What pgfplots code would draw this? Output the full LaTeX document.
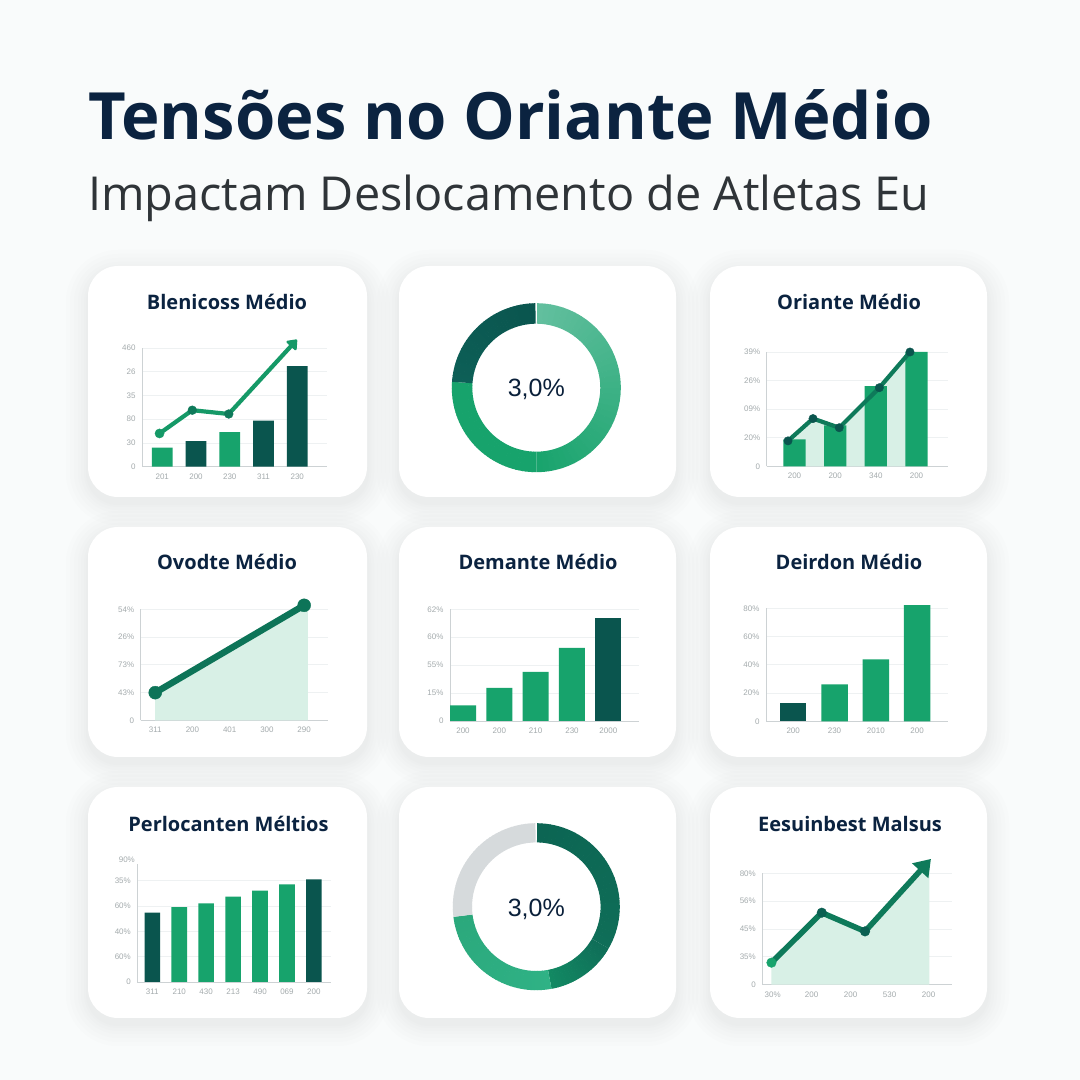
\documentclass[border=0pt]{standalone}
\usepackage{fontspec}
\setmainfont{Open Sans}
\newfontfamily\tickfont{Liberation Sans}
\usepackage{pgfplots}
\pgfplotsset{compat=1.18}
\usetikzlibrary{arrows.meta}
\definecolor{bgc}{HTML}{F9FBFB}
\definecolor{navy}{HTML}{0B2340}
\definecolor{subc}{HTML}{2F3438}
\definecolor{dk}{HTML}{0A554E}
\definecolor{gr}{HTML}{17A36C}
\definecolor{ln}{HTML}{0E7A5A}
\definecolor{lt}{HTML}{D8F0E6}
\definecolor{tickc}{HTML}{A4ABAD}
\definecolor{axc}{HTML}{CDD2D4}
\definecolor{gridc}{HTML}{EEF1F2}
\definecolor{shc}{HTML}{7C8FA0}
\definecolor{ringA}{HTML}{62BF9E}
\definecolor{ringB}{HTML}{2FB285}
\definecolor{ringC}{HTML}{2BA87C}
\definecolor{ringD}{HTML}{D6DADC}
\definecolor{ringE}{HTML}{0C6553}
\definecolor{ringF}{HTML}{0F6E58}
\definecolor{ringG}{HTML}{128A63}
\definecolor{ringH}{HTML}{0D5F57}
\newcommand{\card}[4]{%
  \foreach \s in {22,18,14,10,7,4,2}{
    \fill[shc,opacity=0.016,rounded corners={30pt+\s pt}] (#1pt-\s pt,#2pt-\s pt-6pt) rectangle (#3pt+\s pt,#4pt+\s pt-6pt);
  }
  \fill[white,rounded corners=30pt] (#1pt,#2pt) rectangle (#3pt,#4pt);
}
\newcommand{\cardtitle}[3]{\node[anchor=base,inner sep=0pt,text=navy,font=\fontsize{20}{22}\selectfont\bfseries] at (#1pt,#2pt) {#3};}
% ring segment: cx cy R r start end colourA colourB
\newcommand{\ring}[8]{%
  \pgfmathsetmacro{\da}{(#6-#5)/40}
  \foreach \i in {0,...,39}{
    \pgfmathsetmacro{\aa}{#5+\i*\da}
    \pgfmathsetmacro{\ab}{#5+(\i+1)*\da+(\i<39?(\da>0?0.4:-0.4):0)}
    \pgfmathsetmacro{\pc}{100-\i*2.5}
    \fill[#7!\pc!#8] ({#1pt+#3pt*cos(\aa)},{#2pt+#3pt*sin(\aa)}) arc[start angle=\aa,end angle=\ab,radius=#3pt]
      -- ({#1pt+#4pt*cos(\ab)},{#2pt+#4pt*sin(\ab)}) arc[start angle=\ab,end angle=\aa,radius=#4pt] -- cycle;
  }
}
\pgfplotsset{
  panel/.style={
    scale only axis, clip=false, ymin=0,
    axis x line*=bottom, axis y line*=left,
    axis line style={axc,line width=0.8pt,-},
    major tick length=0pt,
    ymajorgrids, major grid style={gridc,line width=0.8pt},
    tick label style={font=\tickfont\fontsize{8}{9}\selectfont,text=tickc},
    xticklabel style={yshift=-3.5pt}, yticklabel style={xshift=-3pt},
    scaled ticks=false,
  },
  gbar/.style={ybar,bar shift=0pt,bar width=#1,draw=none,fill=gr},
  dbar/.style={ybar,bar shift=0pt,bar width=#1,draw=none,fill=dk},
}
\begin{document}
\begin{tikzpicture}[x=1pt,y=1pt]
\fill[bgc] (0,0) rectangle (1080,1080);
\path[use as bounding box] (0,0) rectangle (1080,1080);
\node[anchor=base west,inner sep=0pt,text=navy,font=\fontsize{65.2}{70}\selectfont\bfseries] at (88pt,940pt) {Tensões no Oriante Médio};
\node[anchor=base west,inner sep=0pt,text=subc,font=\fontsize{46.8}{50}\selectfont] at (88pt,869pt) {Impactam Deslocamento de Atletas Eu};
% cards
\card{88}{583}{367}{814}\card{399}{583}{676}{814}\card{710}{583}{987}{814}
\card{88}{323}{367}{553}\card{399}{323}{676}{553}\card{710}{323}{987}{553}
\card{88}{62}{367}{293}\card{399}{62}{676}{293}\card{710}{62}{987}{293}
\cardtitle{227}{770}{Blenicoss Médio}
\cardtitle{849}{770}{Oriante Médio}
\cardtitle{227}{510}{Ovodte Médio}
\cardtitle{538}{510}{Demante Médio}
\cardtitle{849}{510}{Deirdon Médio}
\cardtitle{228.5}{248}{Perlocanten Méltios}
\cardtitle{850}{248}{Eesuinbest Malsus}
% donut 1
\ring{536.3}{692.3}{84.5}{64}{89.4}{-90}{ringA}{gr}
\ring{536.3}{692.3}{84.5}{64}{-90}{-184}{gr}{gr}
\ring{536.3}{692.3}{84.5}{64}{176}{90.6}{ringH}{dk}
\node[text=navy!90!black,font=\tickfont\fontsize{25}{27}\selectfont] at (536.3pt,690.5pt) {3,0\%};
% donut 2
\ring{536.3}{173.3}{83.5}{64.3}{89.4}{-30}{ringE}{ringF}
\ring{536.3}{173.3}{83.5}{64.3}{-30}{-79.5}{ringF}{ringG}
\ring{536.3}{173.3}{83.5}{64.3}{-79.5}{-173}{ringB}{ringC}
\ring{536.3}{173.3}{83.5}{64.3}{187}{90.6}{ringD}{ringD}
\node[text=navy!90!black,font=\tickfont\fontsize{25}{27}\selectfont] at (536.3pt,171pt) {3,0\%};
% chart 1
\begin{axis}[panel,at={(142pt,613.3pt)},anchor=south west,width=185.3pt,height=118.7pt,
  xmin=-0.6,xmax=4.89,ymax=50,
  ytick={0,10,20,30,40,50},yticklabels={0,30,80,35,26,460},
  xtick={0,1,2,3,4},xticklabels={201,200,230,311,230}]
\addplot[gbar=20.7pt] coordinates {(0,8)(2,14.6)};
\addplot[dbar=20.7pt] coordinates {(1,10.8)(3,19.4)(4,42.4)};
\addplot[color=gr!75!ln,line width=4.2pt,-{Triangle[length=10pt,width=15pt,round]}] coordinates {(-0.08,14)(0.89,23.8)(1.97,22.2)(3.99,53.5)};
\addplot[only marks,mark=*,mark size=4.6pt,color=gr!75!ln] coordinates {(-0.08,14)};
\addplot[only marks,mark=*,mark size=4.4pt,color=ln] coordinates {(0.89,23.8)(1.97,22.2)};
\end{axis}
% chart 2
\begin{axis}[panel,at={(766.7pt,613.7pt)},anchor=south west,width=181.3pt,height=114.3pt,
  xmin=-0.684,xmax=3.775,ymax=40,
  ytick={0,10,20,30,40},yticklabels={0,20\%,09\%,26\%,39\%},
  xtick={0,1,2,3},xticklabels={200,200,340,200}]
\addplot[fill=lt,draw=none] coordinates {(-0.16,8.9)(0.455,16.7)(1.10,13.5)(2.086,27.5)(2.84,40)(2.84,0)(-0.16,0)};
\addplot[gbar=22.3pt] coordinates {(0,9.4)(1,14.3)(2,28.1)(3,40)};
\addplot[color=ln,line width=4.2pt] coordinates {(-0.16,8.9)(0.455,16.7)(1.10,13.5)(2.086,27.5)(2.84,40)};
\addplot[only marks,mark=*,mark size=4.2pt,color=dk] coordinates {(-0.16,8.9)(0.455,16.7)(1.10,13.5)(2.086,27.5)(2.84,40)};
\end{axis}
% chart 3
\begin{axis}[panel,at={(140.7pt,359.7pt)},anchor=south west,width=187.3pt,height=111pt,
  xmin=-0.39,xmax=4.64,ymax=100,
  ytick={0,25,50,75,100},yticklabels={0,43\%,73\%,26\%,54\%},
  xtick={0,1,2,3,4},xticklabels={311,200,401,300,290}]
\addplot[fill=lt,draw=none] coordinates {(0,24.9)(4,103.6)(4.1,100)(4.1,0)(0,0)};
\addplot[color=ln!85!dk,line width=6.5pt] coordinates {(0,24.9)(4,103.6)};
\addplot[only marks,mark=*,mark size=6.5pt,color=ln!85!dk] coordinates {(0,24.9)(4,103.6)};
\end{axis}
% chart 4
\begin{axis}[panel,at={(450pt,359pt)},anchor=south west,width=189.3pt,height=111.7pt,
  xmin=-0.358,xmax=4.853,ymax=100,
  ytick={0,25,50,75,100},yticklabels={0,15\%,55\%,60\%,62\%},
  xtick={0,1,2,3,4},xticklabels={200,200,210,230,2000}]
\addplot[gbar=26pt] coordinates {(0,14)(1,29.6)(2,43.9)(3,65.4)};
\addplot[dbar=26pt] coordinates {(4,92.5)};
\end{axis}
% chart 5
\begin{axis}[panel,at={(766pt,358.7pt)},anchor=south west,width=182pt,height=113pt,
  xmin=-0.6585,xmax=3.748,ymax=100,
  ytick={0,25,50,75,100},yticklabels={0,20\%,40\%,60\%,80\%},
  xtick={0,1,2,3},xticklabels={200,230,2010,200}]
\addplot[dbar=26.5pt] coordinates {(0,16.5)};
\addplot[gbar=26.5pt] coordinates {(1,32.7)(2,54.9)(3,102.7)};
\end{axis}
% chart 6
\begin{axis}[panel,at={(137.3pt,98pt)},anchor=south west,width=193.3pt,height=118.3pt,
  xmin=-0.557,xmax=6.62,ymax=93.4,
  ytick={0,20,40,60,80},yticklabels={0,60\%,40\%,60\%,35\%},
  xtick={0,1,2,3,4,5,6},xticklabels={311,210,430,213,490,069,200}]
\addplot[dbar=15.6pt] coordinates {(0,54.7)(6,81)};
\addplot[gbar=15.6pt] coordinates {(1,59.2)(2,62.1)(3,67.4)(4,72.1)(5,77.1)};
\node[anchor=east,inner sep=0pt,font=\tickfont\fontsize{8}{9}\selectfont,text=tickc] at (axis cs:-0.64,96.8) {90\%};
\end{axis}
% chart 7
\begin{axis}[panel,at={(762.3pt,95.3pt)},anchor=south west,width=189.7pt,height=111.3pt,
  xmin=-0.265,xmax=4.6,ymax=100,
  ytick={0,25,50,75,100},yticklabels={0,35\%,45\%,56\%,80\%},
  xtick={0,1,2,3,4},xticklabels={30\%,200,200,530,200}]
\addplot[fill=lt,draw=none] coordinates {(-0.03,19.8)(1.26,64.7)(2.37,47.9)(4.02,107)(4.02,0)(-0.03,0)};
\addplot[color=ln,line width=5.6pt,-{Triangle[length=16pt,width=21pt]}] coordinates {(-0.03,19.8)(1.26,64.7)(2.37,47.9)(4.06,113)};
\addplot[only marks,mark=*,mark size=4.8pt,color=gr] coordinates {(-0.03,19.8)};
\addplot[only marks,mark=*,mark size=4.8pt,color=dk!70!ln] coordinates {(1.26,64.7)(2.37,47.9)};
\end{axis}
\end{tikzpicture}
\end{document}
